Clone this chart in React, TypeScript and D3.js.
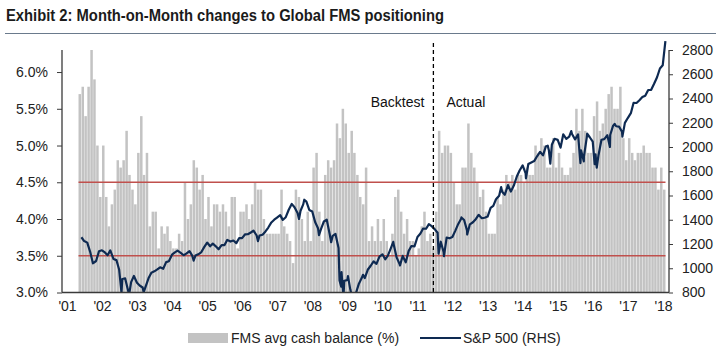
import React, { useRef, useEffect } from "react";
import * as d3 from "d3";

// FMS average cash balance (%), monthly, May 2001 - Jan 2018
const cashStart = "2001-05-01";
const cashBalance = [
  5.7, 5.8, 5.4, 5.8, 6.3, 5.9, 5.0, 4.3, // 2001 May-Dec
  5.0, 4.3, 3.9, 4.2, 4.4, 4.8, 4.7, 4.8, 5.2, 4.6, 4.4, 4.2, // 2002
  4.9, 5.4, 4.6, 4.9, 3.9, 4.1, 4.1, 3.6, 3.9, 3.8, 3.9, 3.7, // 2003
  3.6, 3.6, 3.8, 3.7, 4.5, 4.0, 4.2, 4.8, 4.7, 4.4, 4.6, 4.0, // 2004
  4.3, 3.9, 4.2, 4.2, 4.1, 4.2, 4.1, 3.9, 4.3, 4.3, 3.6, 4.1, // 2005
  4.1, 4.2, 4.0, 4.2, 4.5, 4.4, 4.4, 4.0, 3.8, 3.8, 3.8, 3.8, // 2006
  3.8, 4.4, 3.9, 3.8, 3.7, 3.4, 4.4, 4.3, 4.0, 3.7, 4.1, 3.7, // 2007
  4.7, 4.9, 4.1, 3.7, 4.6, 4.8, 4.7, 4.8, 5.3, 5.1, 5.5, 5.3, // 2008
  4.9, 5.2, 4.9, 4.6, 4.3, 4.2, 4.7, 3.7, 3.9, 3.7, 4.0, 3.7, // 2009
  4.0, 3.7, 3.5, 3.8, 4.3, 4.4, 4.1, 3.8, 4.0, 3.7, 3.7, 3.5, // 2010
  3.6, 3.9, 4.1, 3.7, 3.8, 3.6, 4.1, 5.2, 4.9, 5.0, 5.0, 4.9, // 2011
  4.5, 4.2, 4.2, 4.7, 4.7, 5.3, 4.9, 4.7, 4.5, 4.3, 4.4, 4.1, // 2012
  3.8, 3.8, 3.8, 4.3, 4.2, 4.4, 4.6, 4.5, 4.6, 4.4, 4.6, 4.6, // 2013
  4.5, 4.7, 4.6, 4.6, 5.0, 4.9, 5.1, 5.0, 4.7, 4.7, 5.1, 4.7, // 2014
  4.9, 4.7, 4.6, 4.6, 4.7, 4.9, 5.5, 5.2, 5.5, 5.2, 4.9, 4.9, // 2015
  5.4, 5.6, 5.2, 5.3, 5.5, 5.7, 5.8, 5.5, 5.5, 5.8, 5.1, 4.8, // 2016
  5.1, 4.9, 4.8, 4.9, 4.9, 5.0, 4.9, 4.9, 4.7, 4.7, 4.4, 4.7, // 2017
  4.4, // 2018 Jan
];

// S&P 500 closes (month ends plus a few intra-month turning points)
const spx: [string, number][] = [
  ["2001-05-31", 1255.8], ["2001-06-29", 1224.4], ["2001-07-31", 1211.2], ["2001-08-31", 1133.6],
  ["2001-09-28", 1040.9], ["2001-10-31", 1059.8], ["2001-11-30", 1139.5], ["2001-12-31", 1148.1],
  ["2002-01-31", 1130.2], ["2002-02-28", 1106.7], ["2002-03-28", 1147.4], ["2002-04-30", 1076.9],
  ["2002-05-31", 1067.1], ["2002-06-28", 989.8], ["2002-07-23", 797.7], ["2002-07-31", 911.6],
  ["2002-08-30", 916.1], ["2002-09-30", 815.3], ["2002-10-09", 776.8], ["2002-10-31", 885.8],
  ["2002-11-29", 936.3], ["2002-12-31", 879.8], ["2003-01-31", 855.7], ["2003-02-28", 841.2],
  ["2003-03-11", 800.7], ["2003-03-31", 848.2], ["2003-04-30", 916.9], ["2003-05-30", 963.6],
  ["2003-06-30", 974.5], ["2003-07-31", 990.3], ["2003-08-29", 1008.0], ["2003-09-30", 996.0],
  ["2003-10-31", 1050.7], ["2003-11-28", 1058.2], ["2003-12-31", 1111.9], ["2004-01-30", 1131.1],
  ["2004-02-27", 1144.9], ["2004-03-31", 1126.2], ["2004-04-30", 1107.3], ["2004-05-28", 1120.7],
  ["2004-06-30", 1140.8], ["2004-07-30", 1101.7], ["2004-08-12", 1063.2], ["2004-08-31", 1104.2],
  ["2004-09-30", 1114.6], ["2004-10-29", 1130.2], ["2004-11-30", 1173.8], ["2004-12-31", 1211.9],
  ["2005-01-31", 1181.3], ["2005-02-28", 1203.6], ["2005-03-31", 1180.6], ["2005-04-29", 1156.9],
  ["2005-05-31", 1191.5], ["2005-06-30", 1191.3], ["2005-07-29", 1234.2], ["2005-08-31", 1220.3],
  ["2005-09-30", 1228.8], ["2005-10-31", 1207.0], ["2005-11-30", 1249.5], ["2005-12-30", 1248.3],
  ["2006-01-31", 1280.1], ["2006-02-28", 1280.7], ["2006-03-31", 1294.9], ["2006-04-28", 1310.6],
  ["2006-05-31", 1270.1], ["2006-06-13", 1223.7], ["2006-06-30", 1270.2], ["2006-07-31", 1276.7],
  ["2006-08-31", 1303.8], ["2006-09-29", 1335.9], ["2006-10-31", 1377.9], ["2006-11-30", 1400.6],
  ["2006-12-29", 1418.3], ["2007-01-31", 1438.2], ["2007-02-27", 1399.0], ["2007-03-30", 1420.9],
  ["2007-04-30", 1482.4], ["2007-05-31", 1530.6], ["2007-06-29", 1503.4], ["2007-07-31", 1455.3],
  ["2007-08-15", 1406.7], ["2007-08-31", 1474.0], ["2007-09-28", 1526.8], ["2007-10-09", 1565.2],
  ["2007-10-31", 1549.4], ["2007-11-30", 1481.1], ["2007-12-31", 1468.4], ["2008-01-31", 1378.6],
  ["2008-02-29", 1330.6], ["2008-03-10", 1273.4], ["2008-03-31", 1322.7], ["2008-04-30", 1385.6],
  ["2008-05-30", 1400.4], ["2008-06-30", 1280.0], ["2008-07-15", 1214.9], ["2008-07-31", 1267.4],
  ["2008-08-29", 1282.8], ["2008-09-30", 1166.4], ["2008-10-10", 899.2], ["2008-10-27", 848.9],
  ["2008-10-31", 968.8], ["2008-11-20", 752.4], ["2008-11-28", 896.2], ["2008-12-31", 903.3],
  ["2009-01-06", 934.7], ["2009-01-30", 825.9], ["2009-02-27", 735.1], ["2009-03-09", 676.5],
  ["2009-03-31", 797.9], ["2009-04-30", 872.8], ["2009-05-29", 919.1], ["2009-06-12", 946.2],
  ["2009-06-30", 919.3], ["2009-07-31", 987.5], ["2009-08-31", 1020.6], ["2009-09-30", 1057.1],
  ["2009-10-30", 1036.2], ["2009-11-30", 1095.6], ["2009-12-31", 1115.1], ["2010-01-29", 1073.9],
  ["2010-02-26", 1104.5], ["2010-03-31", 1169.4], ["2010-04-23", 1217.3], ["2010-04-30", 1186.7],
  ["2010-05-28", 1089.4], ["2010-06-30", 1030.7], ["2010-07-02", 1022.6], ["2010-07-30", 1101.6],
  ["2010-08-31", 1049.3], ["2010-09-30", 1141.2], ["2010-10-29", 1183.3], ["2010-11-30", 1180.6],
  ["2010-12-31", 1257.6], ["2011-01-31", 1286.1], ["2011-02-28", 1327.2], ["2011-03-31", 1325.8],
  ["2011-04-29", 1363.6], ["2011-05-31", 1345.2], ["2011-06-30", 1320.6], ["2011-07-29", 1292.3],
  ["2011-08-08", 1119.5], ["2011-08-31", 1218.9], ["2011-09-30", 1131.4], ["2011-10-03", 1099.2],
  ["2011-10-31", 1253.3], ["2011-11-30", 1247.0], ["2011-12-30", 1257.6], ["2012-01-31", 1312.4],
  ["2012-02-29", 1365.7], ["2012-03-30", 1408.5], ["2012-04-02", 1419.0], ["2012-04-30", 1397.9],
  ["2012-05-31", 1310.3], ["2012-06-01", 1278.0], ["2012-06-29", 1362.2], ["2012-07-31", 1379.3],
  ["2012-08-31", 1406.6], ["2012-09-28", 1440.7], ["2012-10-31", 1412.2], ["2012-11-30", 1416.2],
  ["2012-12-31", 1426.2], ["2013-01-31", 1498.1], ["2013-02-28", 1514.7], ["2013-03-28", 1569.2],
  ["2013-04-30", 1597.6], ["2013-05-21", 1669.2], ["2013-05-31", 1630.7], ["2013-06-28", 1606.3],
  ["2013-07-31", 1685.7], ["2013-08-30", 1633.0], ["2013-09-30", 1681.6], ["2013-10-31", 1756.5],
  ["2013-11-29", 1805.8], ["2013-12-31", 1848.4], ["2014-01-31", 1782.6], ["2014-02-03", 1741.9],
  ["2014-02-28", 1859.5], ["2014-03-31", 1872.3], ["2014-04-30", 1884.0], ["2014-05-30", 1923.6],
  ["2014-06-30", 1960.2], ["2014-07-31", 1930.7], ["2014-08-29", 2003.4], ["2014-09-18", 2011.4],
  ["2014-09-30", 1972.3], ["2014-10-15", 1862.5], ["2014-10-31", 2018.1], ["2014-11-28", 2067.6],
  ["2014-12-31", 2058.9], ["2015-01-30", 1995.0], ["2015-02-27", 2104.5], ["2015-03-31", 2067.9],
  ["2015-04-30", 2085.5], ["2015-05-21", 2130.8], ["2015-05-29", 2107.4], ["2015-06-30", 2063.1],
  ["2015-07-31", 2103.8], ["2015-08-25", 1867.6], ["2015-08-31", 1972.2], ["2015-09-29", 1881.8],
  ["2015-09-30", 1920.0], ["2015-10-30", 2079.4], ["2015-11-03", 2109.8], ["2015-11-30", 2080.4],
  ["2015-12-31", 2043.9], ["2016-01-20", 1859.3], ["2016-01-29", 1940.2], ["2016-02-11", 1829.1],
  ["2016-02-29", 1932.2], ["2016-03-31", 2059.7], ["2016-04-29", 2065.3], ["2016-05-31", 2097.0],
  ["2016-06-27", 2000.5], ["2016-06-30", 2098.9], ["2016-07-29", 2173.6], ["2016-08-15", 2190.2],
  ["2016-08-31", 2171.0], ["2016-09-30", 2168.3], ["2016-10-31", 2126.2], ["2016-11-04", 2085.2],
  ["2016-11-30", 2198.8], ["2016-12-30", 2238.8], ["2017-01-31", 2278.9], ["2017-02-28", 2363.6],
  ["2017-03-31", 2362.7], ["2017-04-28", 2384.2], ["2017-05-31", 2411.8], ["2017-06-30", 2423.4],
  ["2017-07-31", 2470.3], ["2017-08-31", 2471.7], ["2017-09-29", 2519.4], ["2017-10-31", 2575.3],
  ["2017-11-30", 2647.6], ["2017-12-29", 2673.6], ["2018-01-26", 2872.9],
];

const leftTicks = [3.0, 3.5, 4.0, 4.5, 5.0, 5.5, 6.0];
const rightTicks = [800, 1000, 1200, 1400, 1600, 1800, 2000, 2200, 2400, 2600, 2800];
const thresholds = [4.5, 3.5];
const splitDate = "2011-06-15";

const FONT = "'Liberation Sans Narrow', 'Liberation Sans', Arial, sans-serif";

const App: React.FC = () => {
  const svgRef = useRef<SVGSVGElement | null>(null);

  useEffect(() => {
    document.body.style.margin = "0";
    if (!svgRef.current) return;
    const svg = d3.select(svgRef.current);
    svg.selectAll("*").remove();

    const width = 720;
    const height = 352;
    const plot = { left: 62, right: 669, top: 50, bottom: 292.5 };

    const parse = d3.timeParse("%Y-%m-%d");
    const x = d3
      .scaleTime()
      .domain([new Date(2001, 0, 1), new Date(2018, 0, 1)])
      .range([67, 663]);
    const yLeft = d3.scaleLinear().domain([3, 6.3]).range([plot.bottom, plot.top]);
    const yRight = d3.scaleLinear().domain([800, 2800]).range([plot.bottom, plot.top]);

    svg.attr("width", width).attr("height", height).style("font-family", FONT);

    // title
    svg
      .append("text")
      .attr("x", 6)
      .attr("y", 21)
      .attr("font-size", 16)
      .attr("font-weight", "bold")
      .attr("fill", "#1b1b1b")
      .attr("textLength", 438)
      .attr("lengthAdjust", "spacingAndGlyphs")
      .text("Exhibit 2: Month-on-Month changes to Global FMS positioning");
    svg
      .append("line")
      .attr("x1", 5)
      .attr("x2", 716)
      .attr("y1", 33.5)
      .attr("y2", 33.5)
      .attr("stroke", "#6a7a8c")
      .attr("stroke-width", 1.2);

    // bars
    const start = parse(cashStart) as Date;
    const bars = cashBalance.map((v, i) => ({ date: d3.timeMonth.offset(start, i), value: v }));
    svg
      .append("g")
      .selectAll("rect")
      .data(bars)
      .join("rect")
      .attr("x", (d) => x(d.date))
      .attr("y", (d) => yLeft(d.value))
      .attr("width", 2.5)
      .attr("height", (d) => plot.bottom - yLeft(d.value))
      .attr("fill", "#c3c3c3");

    // threshold lines
    const x0 = x(bars[0].date);
    const x1 = x(bars[bars.length - 1].date) + 2.5;
    svg
      .append("g")
      .selectAll("line")
      .data(thresholds)
      .join("line")
      .attr("x1", x0)
      .attr("x2", x1)
      .attr("y1", (d) => yLeft(d))
      .attr("y2", (d) => yLeft(d))
      .attr("stroke", "#c0504d")
      .attr("stroke-width", 1.6);

    // S&P 500 line, clipped at the bottom of the plot
    svg
      .append("defs")
      .append("clipPath")
      .attr("id", "plotClip")
      .append("rect")
      .attr("x", plot.left)
      .attr("y", 0)
      .attr("width", plot.right - plot.left)
      .attr("height", plot.bottom);

    const line = d3
      .line<[string, number]>()
      .x((d) => x(parse(d[0]) as Date))
      .y((d) => yRight(d[1]));
    svg
      .append("path")
      .datum(spx)
      .attr("clip-path", "url(#plotClip)")
      .attr("d", line)
      .attr("fill", "none")
      .attr("stroke", "#0e2a52")
      .attr("stroke-width", 2.2)
      .attr("stroke-linejoin", "round");

    // backtest / actual divider
    const xs = x(parse(splitDate) as Date);
    svg
      .append("line")
      .attr("x1", xs)
      .attr("x2", xs)
      .attr("y1", 43)
      .attr("y2", plot.bottom)
      .attr("stroke", "#000")
      .attr("stroke-width", 1.3)
      .attr("stroke-dasharray", "4,3");
    svg
      .append("text")
      .attr("x", xs - 9)
      .attr("y", 107)
      .attr("text-anchor", "end")
      .attr("font-size", 14)
      .attr("fill", "#111")
      .text("Backtest");
    svg
      .append("text")
      .attr("x", xs + 13)
      .attr("y", 107)
      .attr("font-size", 14)
      .attr("fill", "#111")
      .text("Actual");

    // left axis
    const gl = svg
      .append("g")
      .attr("transform", `translate(${plot.left},0)`)
      .call(
        d3
          .axisLeft(yLeft)
          .tickValues(leftTicks)
          .tickSize(5)
          .tickPadding(9)
          .tickFormat((d) => `${(d as number).toFixed(1)}%`)
      );
    gl.select(".domain").attr("d", `M0,${plot.top}V${plot.bottom}`);

    // right axis
    const gr = svg
      .append("g")
      .attr("transform", `translate(${plot.right},0)`)
      .call(d3.axisRight(yRight).tickValues(rightTicks).tickSize(4).tickPadding(9).tickFormat(d3.format("d")));
    gr.select(".domain").attr("d", `M0,${plot.top}V${plot.bottom}`);

    // x axis
    const gx = svg
      .append("g")
      .attr("transform", `translate(0,${plot.bottom})`)
      .call(
        d3
          .axisBottom(x)
          .ticks(d3.timeYear.every(1))
          .tickSize(0)
          .tickPadding(9)
          .tickFormat((d) => d3.timeFormat("'%y")(d as Date))
      );
    gx.select(".domain").attr("d", `M${plot.left},0H${plot.right}`);

    [gl, gr, gx].forEach((g) => {
      g.selectAll(".domain").attr("stroke", "#3a3a3a").attr("stroke-width", 1.3);
      g.selectAll(".tick line").attr("stroke", "#3a3a3a");
      g.selectAll("text").attr("fill", "#222").attr("font-size", 14).attr("font-family", FONT);
    });

    // legend
    const lg = svg.append("g").attr("transform", "translate(0,338)");
    lg.append("rect").attr("x", 188).attr("y", -5).attr("width", 40).attr("height", 10).attr("fill", "#c3c3c3");
    lg.append("text")
      .attr("x", 231)
      .attr("y", 5)
      .attr("font-size", 14)
      .attr("fill", "#222")
      .text("FMS avg cash balance (%)");
    lg.append("line")
      .attr("x1", 420)
      .attr("x2", 461)
      .attr("y1", 0)
      .attr("y2", 0)
      .attr("stroke", "#0e2a52")
      .attr("stroke-width", 2.2);
    lg.append("text")
      .attr("x", 463)
      .attr("y", 5)
      .attr("font-size", 14)
      .attr("fill", "#222")
      .text("S&P 500 (RHS)");
  }, []);

  return <svg ref={svgRef} style={{ display: "block" }} />;
};

export default App;
